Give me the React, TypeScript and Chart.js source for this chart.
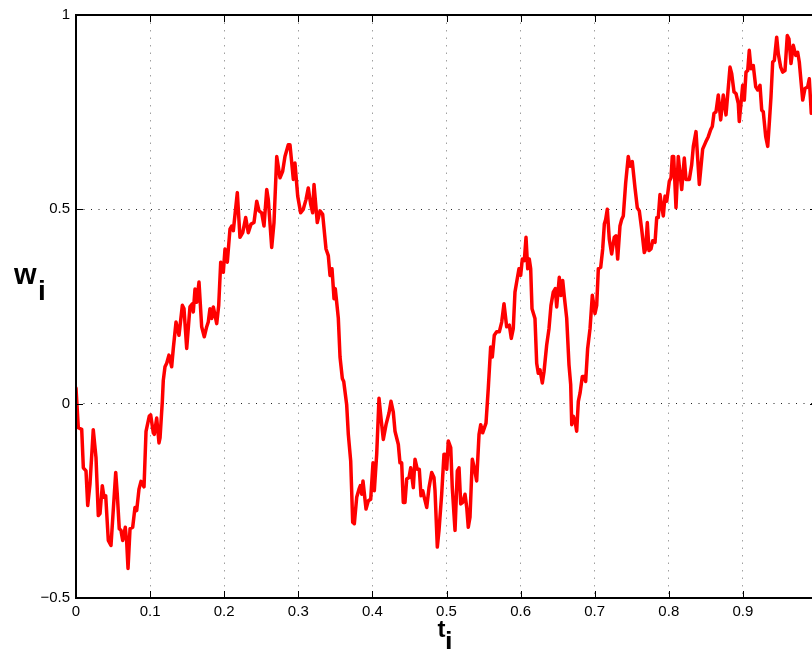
import React, { useEffect, useRef } from 'react';
import { Chart, registerables } from 'chart.js';

Chart.register(...registerables);

// time values t_i
const T = [
  0.0, 0.0031, 0.0077, 0.0099, 0.0135, 0.0158, 0.0189, 0.0233, 0.0270, 0.0301,
  0.0324, 0.0355, 0.0378, 0.0401, 0.0436, 0.0472, 0.0536, 0.0557, 0.0584, 0.0607,
  0.0630, 0.0665, 0.0684, 0.0702, 0.0729, 0.0765, 0.0796, 0.0819, 0.0850, 0.0877,
  0.0918, 0.0945, 0.0989, 0.1008, 0.1043, 0.1057, 0.1089, 0.1120, 0.1134, 0.1165,
  0.1178, 0.1201, 0.1224, 0.1255, 0.1291, 0.1313, 0.1350, 0.1390, 0.1435, 0.1457,
  0.1494, 0.1538, 0.1570, 0.1583, 0.1606, 0.1629, 0.1660, 0.1696, 0.1731, 0.1764,
  0.1785, 0.1808, 0.1831, 0.1853, 0.1899, 0.1926, 0.1953, 0.1988, 0.2011, 0.2042,
  0.2078, 0.2101, 0.2123, 0.2177, 0.2213, 0.2250, 0.2290, 0.2325, 0.2362, 0.2402,
  0.2439, 0.2470, 0.2506, 0.2537, 0.2574, 0.2595, 0.2641, 0.2672, 0.2709, 0.2753,
  0.2789, 0.2820, 0.2865, 0.2888, 0.2933, 0.2955, 0.2992, 0.3032, 0.3067, 0.3104,
  0.3135, 0.3167, 0.3194, 0.3212, 0.3256, 0.3293, 0.3329, 0.3374, 0.3405, 0.3428,
  0.3455, 0.3482, 0.3499, 0.3518, 0.3540, 0.3563, 0.3594, 0.3613, 0.3653, 0.3675,
  0.3707, 0.3734, 0.3756, 0.3788, 0.3819, 0.3837, 0.3856, 0.3873, 0.3914, 0.3945,
  0.3977, 0.4008, 0.4026, 0.4058, 0.4089, 0.4116, 0.4147, 0.4184, 0.4224, 0.4251,
  0.4282, 0.4305, 0.4350, 0.4372, 0.4395, 0.4417, 0.4440, 0.4463, 0.4494, 0.4517,
  0.4552, 0.4575, 0.4606, 0.4633, 0.4656, 0.4679, 0.4700, 0.4733, 0.4764, 0.4800,
  0.4831, 0.4845, 0.4876, 0.4899, 0.4935, 0.4966, 0.4980, 0.5003, 0.5024, 0.5057,
  0.5078, 0.5115, 0.5146, 0.5169, 0.5192, 0.5219, 0.5250, 0.5273, 0.5294, 0.5317,
  0.5348, 0.5375, 0.5407, 0.5439, 0.5462, 0.5488, 0.5533, 0.5564, 0.5596, 0.5618,
  0.5645, 0.5677, 0.5713, 0.5745, 0.5776, 0.5812, 0.5848, 0.5874, 0.5901, 0.5924,
  0.5947, 0.5978, 0.6001, 0.6023, 0.6050, 0.6073, 0.6096, 0.6117, 0.6136, 0.6154,
  0.6194, 0.6217, 0.6239, 0.6262, 0.6293, 0.6316, 0.6352, 0.6383, 0.6410, 0.6441,
  0.6468, 0.6487, 0.6522, 0.6545, 0.6568, 0.6590, 0.6622, 0.6653, 0.6676, 0.6690,
  0.6711, 0.6734, 0.6757, 0.6779, 0.6802, 0.6833, 0.6856, 0.6878, 0.6905, 0.6937,
  0.6968, 0.7004, 0.7027, 0.7049, 0.7081, 0.7108, 0.7130, 0.7148, 0.7170, 0.7197,
  0.7229, 0.7264, 0.7287, 0.7310, 0.7341, 0.7364, 0.7386, 0.7418, 0.7453, 0.7476,
  0.7507, 0.7544, 0.7575, 0.7602, 0.7634, 0.7669, 0.7688, 0.7710, 0.7733, 0.7760,
  0.7783, 0.7814, 0.7837, 0.7858, 0.7881, 0.7904, 0.7926, 0.7949, 0.7972, 0.8007,
  0.8030, 0.8047, 0.8066, 0.8097, 0.8128, 0.8174, 0.8209, 0.8232, 0.8277, 0.8309,
  0.8331, 0.8367, 0.8390, 0.8412, 0.8457, 0.8498, 0.8533, 0.8565, 0.8587, 0.8610,
  0.8637, 0.8668, 0.8700, 0.8735, 0.8772, 0.8826, 0.8849, 0.8880, 0.8907, 0.8938,
  0.8951, 0.8970, 0.8997, 0.9019, 0.9042, 0.9065, 0.9086, 0.9109, 0.9140, 0.9173,
  0.9200, 0.9231, 0.9254, 0.9275, 0.9308, 0.9335, 0.9356, 0.9379, 0.9402, 0.9424,
  0.9456, 0.9478, 0.9510, 0.9537, 0.9568, 0.9599, 0.9622, 0.9649, 0.9680, 0.9713,
  0.9739, 0.9761, 0.9807, 0.9838, 0.9874, 0.9896, 0.9923, 0.9960, 1.0,
];

// path values w_i
const W = [
  0.040, -0.062, -0.066, -0.165, -0.173, -0.262, -0.206, -0.067, -0.139, -0.288,
  -0.283, -0.211, -0.241, -0.237, -0.352, -0.365, -0.177, -0.233, -0.322, -0.326,
  -0.352, -0.318, -0.356, -0.424, -0.322, -0.318, -0.267, -0.275, -0.220, -0.200,
  -0.214, -0.071, -0.032, -0.029, -0.075, -0.079, -0.037, -0.101, -0.088, 0.006,
  0.060, 0.095, 0.104, 0.125, 0.095, 0.142, 0.210, 0.176, 0.253, 0.245,
  0.142, 0.249, 0.257, 0.236, 0.295, 0.261, 0.313, 0.198, 0.172, 0.198,
  0.210, 0.244, 0.219, 0.249, 0.206, 0.253, 0.364, 0.338, 0.398, 0.364,
  0.449, 0.457, 0.445, 0.543, 0.428, 0.440, 0.479, 0.440, 0.462, 0.466,
  0.521, 0.496, 0.491, 0.457, 0.551, 0.525, 0.402, 0.466, 0.636, 0.581,
  0.598, 0.636, 0.666, 0.666, 0.577, 0.619, 0.534, 0.491, 0.500, 0.525,
  0.555, 0.513, 0.491, 0.564, 0.466, 0.496, 0.487, 0.398, 0.381, 0.330,
  0.347, 0.270, 0.296, 0.261, 0.220, 0.120, 0.065, 0.057, -0.003, -0.079,
  -0.147, -0.305, -0.309, -0.241, -0.220, -0.211, -0.233, -0.199, -0.271, -0.250,
  -0.246, -0.152, -0.224, -0.130, 0.014, -0.037, -0.092, -0.054, -0.024, 0.006,
  -0.022, -0.071, -0.105, -0.152, -0.152, -0.254, -0.254, -0.194, -0.190, -0.165,
  -0.216, -0.143, -0.169, -0.169, -0.237, -0.224, -0.241, -0.267, -0.216, -0.177,
  -0.190, -0.224, -0.369, -0.326, -0.233, -0.130, -0.130, -0.169, -0.096, -0.113,
  -0.216, -0.326, -0.173, -0.165, -0.258, -0.254, -0.233, -0.267, -0.318, -0.292,
  -0.143, -0.165, -0.199, -0.079, -0.054, -0.075, -0.050, 0.040, 0.146, 0.120,
  0.176, 0.185, 0.185, 0.210, 0.257, 0.198, 0.202, 0.168, 0.193, 0.287,
  0.313, 0.347, 0.330, 0.372, 0.368, 0.428, 0.347, 0.372, 0.347, 0.244,
  0.219, 0.104, 0.078, 0.087, 0.053, 0.082, 0.151, 0.193, 0.253, 0.287,
  0.296, 0.249, 0.325, 0.278, 0.317, 0.275, 0.220, 0.100, 0.049, -0.054,
  -0.032, -0.045, -0.071, 0.006, 0.027, 0.070, 0.070, 0.057, 0.142, 0.193,
  0.279, 0.232, 0.253, 0.347, 0.351, 0.398, 0.462, 0.474, 0.500, 0.423,
  0.385, 0.428, 0.432, 0.372, 0.457, 0.474, 0.483, 0.568, 0.636, 0.611,
  0.623, 0.555, 0.504, 0.496, 0.449, 0.389, 0.398, 0.466, 0.394, 0.398,
  0.419, 0.415, 0.479, 0.479, 0.538, 0.508, 0.483, 0.534, 0.521, 0.572,
  0.581, 0.636, 0.636, 0.504, 0.636, 0.551, 0.632, 0.577, 0.577, 0.615,
  0.662, 0.700, 0.630, 0.564, 0.655, 0.673, 0.687, 0.705, 0.713, 0.747,
  0.751, 0.794, 0.730, 0.794, 0.743, 0.866, 0.849, 0.802, 0.798, 0.772,
  0.726, 0.764, 0.819, 0.781, 0.853, 0.857, 0.909, 0.862, 0.870, 0.815,
  0.807, 0.819, 0.755, 0.751, 0.687, 0.662, 0.721, 0.789, 0.879, 0.883,
  0.943, 0.900, 0.866, 0.853, 0.857, 0.947, 0.938, 0.875, 0.922, 0.896,
  0.904, 0.879, 0.781, 0.811, 0.815, 0.836, 0.747, 0.770, 0.790,
];

const X_TICKS = [0, 0.1, 0.2, 0.3, 0.4, 0.5, 0.6, 0.7, 0.8, 0.9, 1];
const Y_TICKS = [-0.5, 0, 0.5, 1];
const X_TITLE = 't';
const Y_TITLE = 'w';
const SUBSCRIPT = 'i';

const CANVAS_W = 840;
const CANVAS_H = 649;
const FONT = '"Liberation Sans", Arial, Helvetica, sans-serif';

const fmt = (v: number) => {
  const r = Math.round(v * 10) / 10;
  const s = String(Math.abs(r));
  return r < 0 ? '\u2212' + s : s;
};

const matlabAxes = {
  id: 'matlabAxes',
  afterDraw(chart: any) {
    const { ctx, chartArea: a, scales } = chart;
    const xs = scales.x;
    const ys = scales.y;
    ctx.save();
    ctx.strokeStyle = '#000';
    ctx.lineWidth = 1;
    const TL = 7;
    ctx.beginPath();
    X_TICKS.forEach((v) => {
      const px = Math.round(xs.getPixelForValue(v)) + 0.5;
      ctx.moveTo(px, a.bottom);
      ctx.lineTo(px, a.bottom - TL);
      ctx.moveTo(px, a.top);
      ctx.lineTo(px, a.top + TL);
    });
    Y_TICKS.forEach((v) => {
      const py = Math.round(ys.getPixelForValue(v)) + 0.5;
      ctx.moveTo(a.left, py);
      ctx.lineTo(a.left + TL, py);
      ctx.moveTo(a.right, py);
      ctx.lineTo(a.right - TL, py);
    });
    ctx.stroke();
    ctx.lineWidth = 2;
    ctx.strokeRect(a.left, a.top, a.right - a.left, a.bottom - a.top);

    // axis titles with subscripts
    ctx.fillStyle = '#000';
    ctx.textBaseline = 'alphabetic';
    ctx.textAlign = 'left';
    // y title
    ctx.font = 'bold 29px ' + FONT;
    ctx.fillText(Y_TITLE, 14, 284);
    ctx.font = 'bold 28px ' + FONT;
    ctx.fillText(SUBSCRIPT, 38, 300);
    // x title, centred under the plot box
    const cx = (a.left + a.right) / 2;
    ctx.font = 'bold 24px ' + FONT;
    ctx.fillText(X_TITLE, cx - 9, 637);
    ctx.font = 'bold 27px ' + FONT;
    ctx.fillText(SUBSCRIPT, cx - 1.5, 651);
    ctx.restore();
  },
};

export default function App() {
  const ref = useRef<HTMLCanvasElement | null>(null);

  useEffect(() => {
    if (!ref.current) return;
    const data = T.map((t, i) => ({ x: t, y: W[i] }));
    const chart = new Chart(ref.current, {
      type: 'line',
      data: {
        datasets: [
          {
            data,
            borderColor: '#ff0000',
            borderWidth: 3.5,
            pointRadius: 0,
            tension: 0,
            fill: false,
            borderJoinStyle: 'round',
            borderCapStyle: 'round',
          },
        ],
      },
      plugins: [matlabAxes],
      options: {
        responsive: false,
        animation: false,
        devicePixelRatio: 1,
        layout: { padding: { top: 11, right: CANVAS_W - 817, left: 0, bottom: 0 } },
        plugins: { legend: { display: false }, tooltip: { enabled: false }, title: { display: false } },
        scales: {
          x: {
            type: 'linear',
            min: 0,
            max: 1,
            afterBuildTicks: (scale: any) => {
              scale.ticks = X_TICKS.map((v) => ({ value: v }));
            },
            afterFit: (scale: any) => {
              scale.height = CANVAS_H - 598;
            },
            ticks: {
              autoSkip: false,
              maxRotation: 0,
              padding: 5,
              color: '#000',
              font: { family: FONT, size: 15 },
              callback: (v: any) => fmt(Number(v)),
            },
            grid: { color: '#a0a0a0', lineWidth: 1, drawTicks: false },
            border: { display: false, dash: [1.5, 6] },
          },
          y: {
            type: 'linear',
            min: -0.5,
            max: 1,
            afterBuildTicks: (scale: any) => {
              scale.ticks = Y_TICKS.map((v) => ({ value: v }));
            },
            afterFit: (scale: any) => {
              scale.width = 76;
            },
            ticks: {
              autoSkip: false,
              padding: 6,
              color: '#000',
              font: { family: FONT, size: 15 },
              callback: (v: any) => fmt(Number(v)),
            },
            grid: { color: '#222', lineWidth: 1, drawTicks: false },
            border: { display: false, dash: [1, 6.5] },
          },
        },
      },
    } as any);
    return () => chart.destroy();
  }, []);

  return (
    <div
      style={{
        position: 'fixed',
        left: 0,
        top: 0,
        width: 812,
        height: 649,
        overflow: 'hidden',
        background: '#fff',
      }}
    >
      <canvas
        ref={ref}
        width={CANVAS_W}
        height={CANVAS_H}
        style={{ display: 'block', width: CANVAS_W, height: CANVAS_H }}
      />
    </div>
  );
}
